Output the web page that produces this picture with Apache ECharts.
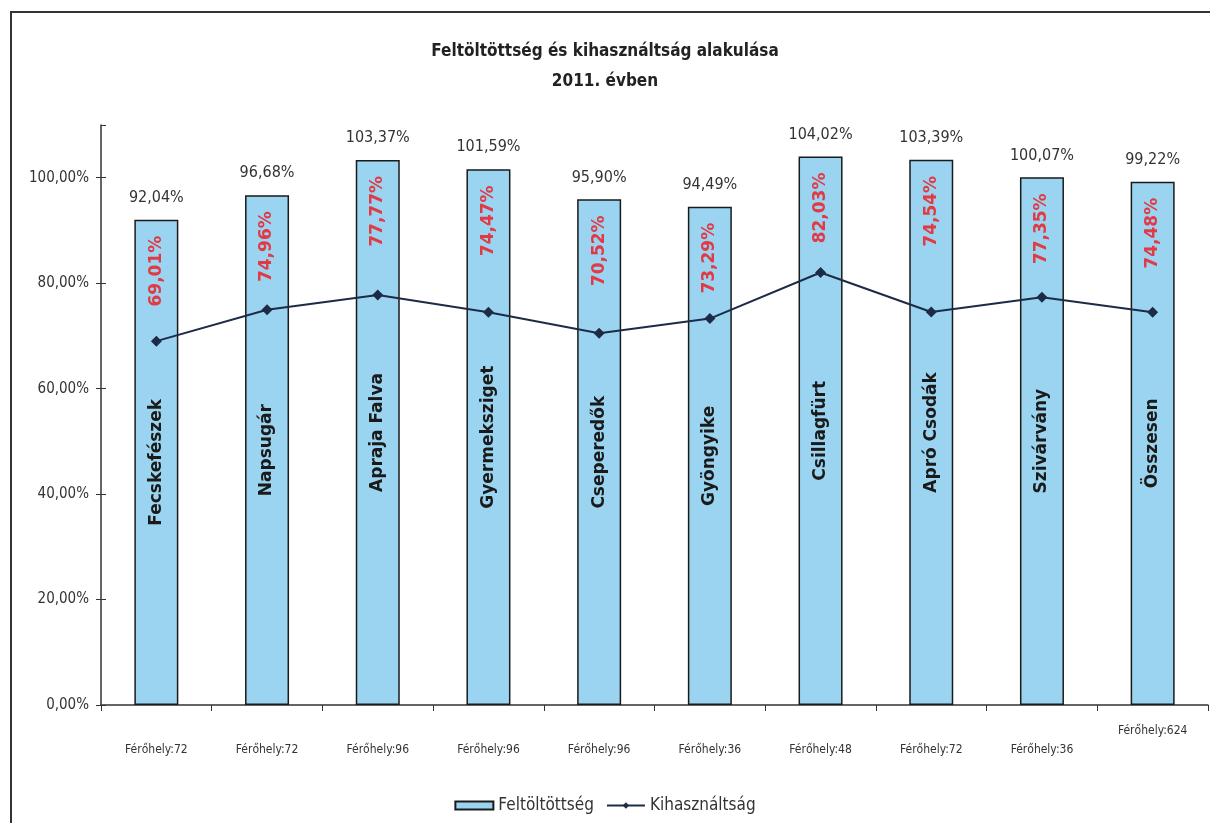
<!DOCTYPE html>
<html>
<head>
<meta charset="utf-8">
<script src="https://cdn.jsdelivr.net/npm/echarts@6/dist/echarts.min.js"></script>
<style>
	html, body { margin: 0; padding: 0; background: #fff; }
	#chart { width: 1210px; height: 823px; }
</style>
</head>
<body>
<div id="chart"></div>
<script>
// ovodak nevei
var ovodak = ['Fecskefészek', 'Napsugár', 'Apraja Falva', 'Gyermeksziget', 'Cseperedők', 'Gyöngyike', 'Csillagfürt', 'Apró Csodák', 'Szivárvány', 'Összesen'];
// férőhelyek száma
var ferohely = [72, 72, 96, 96, 96, 36, 48, 72, 36, 624];
// feltöltöttség (%)
var feltoltottseg = [92.04, 96.68, 103.37, 101.59, 95.90, 94.49, 104.02, 103.39, 100.07, 99.22];
// kihasználtság (%)
var kihasznaltsag = [69.01, 74.96, 77.77, 74.47, 70.52, 73.29, 82.03, 74.54, 77.35, 74.48];
// y tengely
var yTicks = [0, 20, 40, 60, 80, 100];

var narrow = '"Liberation Sans Narrow", "DejaVu Sans Condensed", "Liberation Sans", sans-serif';

function szazalek(v) {
	return v.toFixed(2).replace('.', ',') + '%';
}

var xLabels = [];
for (var i = 0; i < ferohely.length; i++) {
	xLabels.push('Férőhely:' + ferohely[i]);
}

var myChart = echarts.init(document.getElementById('chart'));
var options = {
	backgroundColor: '#fff',
	animation: false,
	title: {
		text: 'Feltöltöttség és kihasználtság alakulása\n2011. évben',
		left: 'center',
		top: 32,
		textStyle: {
			fontFamily: narrow,
			fontSize: 17,
			fontWeight: 'bold',
			color: '#222',
			lineHeight: 30
		}
	},
	graphic: [{
		type: 'rect',
		shape: { x: 11, y: 12, width: 1300, height: 900 },
		style: { fill: 'none', stroke: '#333', lineWidth: 2 },
		silent: true
	}],
	legend: {
		data: [{ name: 'Feltöltöttség', icon: 'rect' }, 'Kihasználtság'],
		bottom: 4,
		left: 'center',
		itemWidth: 38,
		itemHeight: 8,
		itemGap: 12,
		textStyle: { fontFamily: narrow, fontSize: 17, color: '#333' }
	},
	grid: {
		left: 101,
		right: 2,
		top: 125,
		bottom: 118
	},
	xAxis: {
		type: 'category',
		data: xLabels,
		axisLine: { lineStyle: { color: '#333', width: 1.5 } },
		axisTick: { show: true, interval: 0, length: 6, lineStyle: { color: '#333' } },
		axisLabel: {
			interval: 0,
			margin: 20,
			formatter: function(v, idx) {
				return idx == ferohely.length - 1 ? '{hi|' + v + '}' : '{lo|' + v + '}';
			},
			rich: {
				hi: { fontFamily: narrow, fontSize: 12, color: '#333', padding: [0, 0, 0, 0] },
				lo: { fontFamily: narrow, fontSize: 12, color: '#333', padding: [19, 0, 0, 0] }
			}
		}
	},
	yAxis: [{
		type: 'value',
		min: 0,
		max: 110,
		interval: 20,
		splitLine: { show: false },
		axisLine: { show: true, lineStyle: { color: '#333', width: 1.5 } },
		axisTick: { show: true, length: 5, lineStyle: { color: '#333' } },
		axisLabel: {
			showMaxLabel: false,
			margin: 12,
			fontFamily: narrow,
			fontSize: 15,
			color: '#333',
			formatter: function(v) { return yTicks.indexOf(v) >= 0 ? szazalek(v) : ''; }
		}
	}, {
		type: 'value',
		position: 'left',
		min: 0,
		max: 110,
		interval: 20,
		splitLine: { show: false },
		axisLine: { show: false },
		axisTick: { show: true, inside: true, length: 5, lineStyle: { color: '#333' } },
		axisLabel: { show: false }
	}],
	series: [{
		name: 'Feltöltöttség',
		type: 'bar',
		barWidth: 44,
		data: feltoltottseg,
		itemStyle: { color: '#9ad4f0', borderColor: '#1a1a1a', borderWidth: 1.5 },
		label: {
			show: true,
			position: 'top',
			distance: 14,
			fontFamily: narrow,
			fontSize: 16,
			color: '#333',
			formatter: function(p) { return szazalek(p.value); }
		}
	}, {
		// óvoda neve a oszlopban
		name: 'nevek',
		type: 'bar',
		barWidth: 44,
		barGap: '-100%',
		silent: true,
		data: feltoltottseg,
		itemStyle: { color: 'rgba(0,0,0,0)' },
		label: {
			show: true,
			position: 'inside',
			rotate: 90,
			fontFamily: '"DejaVu Sans", sans-serif',
			fontWeight: 'bold',
			fontSize: 17,
			color: '#1a1a1a',
			formatter: function(p) { return ovodak[p.dataIndex]; }
		}
	}, {
		// kihasználtság felirat piros
		name: 'kihfelirat',
		type: 'bar',
		barWidth: 44,
		barGap: '-100%',
		silent: true,
		data: feltoltottseg,
		itemStyle: { color: 'rgba(0,0,0,0)' },
		label: {
			show: true,
			position: ['50%', 16],
			rotate: 90,
			align: 'right',
			verticalAlign: 'middle',
			fontFamily: '"DejaVu Sans", sans-serif',
			fontWeight: 'bold',
			fontSize: 17,
			color: '#e23a45',
			formatter: function(p) { return szazalek(kihasznaltsag[p.dataIndex]); }
		}
	}, {
		name: 'Kihasználtság',
		type: 'line',
		data: kihasznaltsag,
		symbol: 'diamond',
		symbolSize: 11,
		lineStyle: { color: '#1d2b47', width: 2 },
		itemStyle: { color: '#1d2b47' },
		z: 5
	}]
};
myChart.setOption(options);
</script>
</body>
</html>
